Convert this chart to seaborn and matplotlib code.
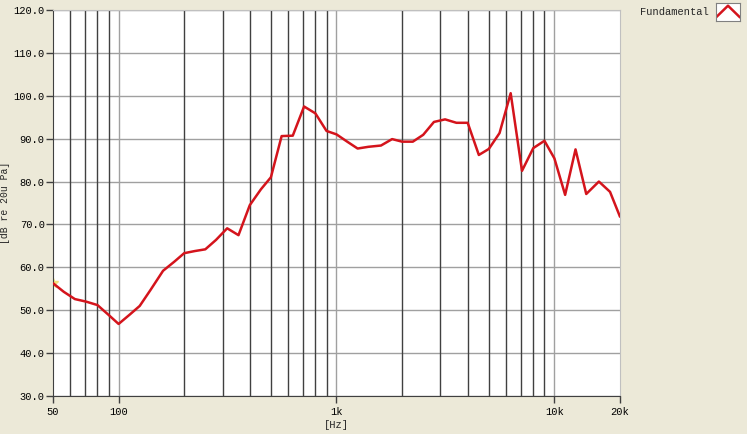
import seaborn as sns
import pandas as pd
import matplotlib.pyplot as plt
from matplotlib.ticker import FixedLocator, NullLocator

# 1/6-octave response
freqs = [50, 56, 63, 71, 80, 90, 100, 112, 125, 140, 160, 180, 200, 224, 250,
         280, 315, 355, 400, 450, 500, 560, 630, 710, 800, 900, 1000, 1120,
         1250, 1400, 1600, 1800, 2000, 2240, 2500, 2800, 3150, 3550, 4000,
         4500, 5000, 5600, 6300, 7100, 8000, 9000, 10000, 11200, 12500,
         14000, 16000, 18000, 20000]
levels = [56.3, 54.3, 52.6, 52.0, 51.2, 48.9, 46.8, 48.9, 51.0, 54.7, 59.2,
          61.3, 63.3, 63.8, 64.2, 66.4, 69.1, 67.5, 74.5, 78.2, 81.0, 90.6,
          90.7, 97.5, 95.9, 91.8, 91.0, 89.3, 87.7, 88.1, 88.4, 89.9, 89.3,
          89.3, 90.9, 93.9, 94.5, 93.7, 93.7, 86.2, 87.6, 91.3, 100.6, 82.5,
          87.8, 89.5, 85.4, 76.9, 87.5, 77.1, 80.0, 77.6, 71.8]

yticks = [30, 40, 50, 60, 70, 80, 90, 100, 110, 120]
xticks = [50, 100, 1000, 10000, 20000]
xticklabels = ["50", "100", "1k", "10k", "20k"]
decades = [100, 1000, 10000]
minor_lines = [60, 70, 80, 90, 200, 300, 400, 500, 600, 700, 800, 900,
               2000, 3000, 4000, 5000, 6000, 7000, 8000, 9000]

df = pd.DataFrame({"Hz": freqs, "dB": levels})

sns.set_style("white")
plt.rcParams["font.family"] = ["Liberation Mono", "DejaVu Sans Mono"]
bg = "#ECE9D8"

fig = plt.figure(figsize=(7.47, 4.34), dpi=100, facecolor=bg)
ax = fig.add_axes([53 / 747, 38 / 434, 567 / 747, 386 / 434])
ax.set_facecolor("white")

for v in yticks:
    ax.axhline(v, color="#A0A0A0", lw=1, zorder=1)
for v in minor_lines:
    ax.axvline(v, color="#404040", lw=1, zorder=1)
for v in decades:
    ax.axvline(v, color="#A0A0A0", lw=1, zorder=1)

sns.lineplot(data=df, x="Hz", y="dB", ax=ax, color="#D4141C", lw=1.8, zorder=3)
ax.plot(freqs[0], levels[0], marker="*", ms=7, color="#F4E27A", zorder=2)

ax.set_xscale("log")
ax.set_xlim(50, 20000)
ax.set_ylim(30, 120)
ax.xaxis.set_major_locator(FixedLocator(xticks))
ax.set_xticklabels(xticklabels)
ax.xaxis.set_minor_locator(NullLocator())
ax.set_yticks(yticks)
ax.set_yticklabels([f"{v:.1f}" for v in yticks])
ax.tick_params(axis="both", which="major", direction="out", length=5,
               width=1, color="#404040", labelsize=7.5, pad=1,
               labelcolor="black", left=True, bottom=True)
ax.tick_params(axis="x", pad=3)
ax.set_xlabel("[Hz]", fontsize=7.5, labelpad=2)
ax.set_ylabel("[dB re 20u Pa]", fontsize=7)
ax.yaxis.set_label_coords(-43 / 567, 0.5)

for side in ["left", "bottom"]:
    ax.spines[side].set_color("#404040")
for side in ["top", "right"]:
    ax.spines[side].set_color("#C0C0C0")

# legend entry outside the plot
fig.text(640 / 747, 1 - 12 / 434, "Fundamental", fontsize=7.5, va="center",
         ha="left")
lax = fig.add_axes([716 / 747, 1 - 21 / 434, 24 / 747, 18 / 434])
lax.set_facecolor("white")
lax.plot([0, 0.5, 1], [0.2, 0.85, 0.2], color="#D4141C", lw=1.8)
lax.set_xlim(0, 1)
lax.set_ylim(0, 1)
lax.set_xticks([])
lax.set_yticks([])
for s in lax.spines.values():
    s.set_color("#808080")
    s.set_linewidth(0.8)

plt.savefig("out.png", dpi=100, facecolor=bg)
plt.close()
